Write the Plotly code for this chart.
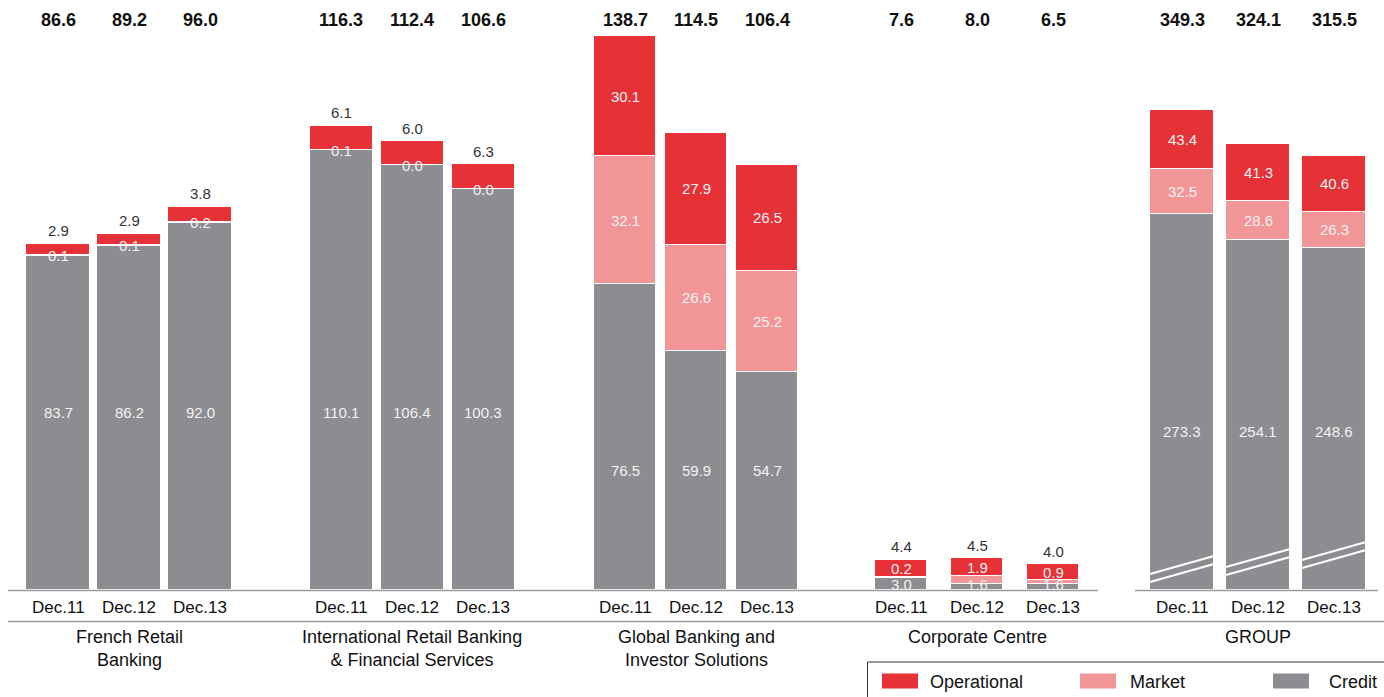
import plotly.graph_objects as go

# ---- data -------------------------------------------------------------
groups = [
    "French Retail<br>Banking",
    "International Retail Banking<br>& Financial Services",
    "Global Banking and<br>Investor Solutions",
    "Corporate Centre",
    "GROUP",
]
years = ["Dec.11", "Dec.12", "Dec.13"]

credit = [
    [83.7, 86.2, 92.0],
    [110.1, 106.4, 100.3],
    [76.5, 59.9, 54.7],
    [3.0, 1.6, 1.6],
    [273.3, 254.1, 248.6],
]
market = [
    [0.1, 0.1, 0.2],
    [0.1, 0.0, 0.0],
    [32.1, 26.6, 25.2],
    [0.2, 1.9, 0.9],
    [32.5, 28.6, 26.3],
]
operational = [
    [2.9, 2.9, 3.8],
    [6.1, 6.0, 6.3],
    [30.1, 27.9, 26.5],
    [4.4, 4.5, 4.0],
    [43.4, 41.3, 40.6],
]
totals = [
    [86.6, 89.2, 96.0],
    [116.3, 112.4, 106.6],
    [138.7, 114.5, 106.4],
    [7.6, 8.0, 6.5],
    [349.3, 324.1, 315.5],
]

# ---- style / layout ---------------------------------------------------
RED = "#E63137"
PINK = "#F29596"
GREY = "#8D8C91"
INK = "#111111"
LIGHT = "#F2F2F2"
FONT = "Liberation Sans, Arial, Helvetica, sans-serif"

W, H = 1384, 697
BASE = 590                      # pixel row of the baseline
PX_MAIN = 3.994                 # px per unit, business lines
PX_GROUP = 1.376                # px per unit, GROUP (compressed scale)

GROUP_CENTERS = [129, 412, 696, 977, 1258]
PITCH = [71, 71, 71, 76, 76]
BAR_W = [64, 63, 62, 52, 64]

# where labels sit (axis units)
CREDIT_LABEL_LEVEL = [44.5, 44.5, 30.0, 1.3, 115.0]
OP_ON_TOP = [True, True, False, True, False]       # op value shown above bar
MARKET_IN_OP = [False, False, False, True, False]  # market label inside red box


def py(p):
    """pixel row -> paper y"""
    return (BASE - p) / BASE


def xpos(g, k):
    return GROUP_CENTERS[g] + (k - 1) * PITCH[g]


fig = go.Figure()

series = [("Credit", credit, GREY), ("Market", market, PINK), ("Operational", operational, RED)]
for name, vals, col in series:
    for axis, gs in (("y", [0, 1, 2, 3]), ("y2", [4])):
        xs, ys, ws = [], [], []
        for g in gs:
            for k in range(3):
                xs.append(xpos(g, k))
                ys.append(vals[g][k])
                ws.append(BAR_W[g])
        fig.add_trace(go.Bar(
            x=xs, y=ys, width=ws, name=name, yaxis=axis,
            marker=dict(color=col, line=dict(color="white", width=1.2)),
            hoverinfo="skip", showlegend=False,
        ))

ann = []


def label(x, y, text, yref, size=15, color=LIGHT, bold=False, yshift=0, yanchor="middle"):
    ann.append(dict(
        x=x, y=y, xref="x", yref=yref, text=f"<b>{text}</b>" if bold else text,
        showarrow=False, yshift=yshift, yanchor=yanchor,
        font=dict(family=FONT, size=size, color=color),
    ))


for g in range(5):
    yref = "y2" if g == 4 else "y"
    for k in range(3):
        x = xpos(g, k)
        c, m, o = credit[g][k], market[g][k], operational[g][k]
        top = c + m + o
        # totals row
        label(x, py(20), f"{totals[g][k]:.1f}", "paper", size=18, color=INK, bold=True)
        # credit
        label(x, CREDIT_LABEL_LEVEL[g], f"{c:.1f}", yref)
        # market
        if MARKET_IN_OP[g]:
            label(x, c + m + o / 2, f"{m:.1f}", yref)
        else:
            label(x, c + m / 2, f"{m:.1f}", yref)
        # operational
        if OP_ON_TOP[g]:
            label(x, top, f"{o:.1f}", yref, color="#333333", yshift=13)
        else:
            label(x, c + m + o / 2, f"{o:.1f}", yref)
        # year under the bar
        label(x, py(607), years[k], "paper", size=17, color=INK)
    # business line name
    ann.append(dict(
        x=GROUP_CENTERS[g], y=py(625), xref="x", yref="paper", text=groups[g],
        showarrow=False, yanchor="top", align="center",
        font=dict(family=FONT, size=18, color=INK),
    ))

shapes = []
# baselines (broken before GROUP) and the separator line
shapes.append(dict(type="line", xref="x", yref="paper", x0=8, x1=1098, y0=py(590.5), y1=py(590.5),
                   line=dict(color="#9a9a9a", width=1.5)))
shapes.append(dict(type="line", xref="x", yref="paper", x0=1135, x1=1378, y0=py(590.5), y1=py(590.5),
                   line=dict(color="#9a9a9a", width=1.5)))
shapes.append(dict(type="line", xref="x", yref="paper", x0=8, x1=W, y0=py(621.5), y1=py(621.5),
                   line=dict(color="#9a9a9a", width=1.5)))

# scale-break marks on the GROUP bars
for k in range(3):
    x = xpos(4, k)
    for off in (0, 8):
        shapes.append(dict(
            type="line", xref="x", yref="paper",
            x0=x - BAR_W[4] / 2, x1=x + BAR_W[4] / 2,
            y0=py(574 - 7 * k + off), y1=py(556 - 7 * k + off),
            line=dict(color="white", width=2.2),
        ))

# legend box
shapes.append(dict(type="rect", xref="x", yref="paper", x0=867.5, x1=W + 5, y0=py(662), y1=py(H + 5),
                   line=dict(color="#333333", width=1), fillcolor="rgba(0,0,0,0)"))
legend_items = [("Operational", RED, 882, 928), ("Market", PINK, 1080, 1128), ("Credit", GREY, 1273, 1327)]
for name, col, sx, tx in legend_items:
    shapes.append(dict(type="rect", xref="x", yref="paper", x0=sx, x1=sx + 36, y0=py(673.5), y1=py(688.5),
                       line=dict(width=0), fillcolor=col))
    ann.append(dict(
        x=tx, y=py(682), xref="x", yref="paper", text=name, showarrow=False,
        xanchor="left", yanchor="middle", font=dict(family=FONT, size=18, color=INK),
    ))

fig.update_layout(
    width=W, height=H,
    margin=dict(l=0, r=0, t=0, b=H - BASE),
    paper_bgcolor="white", plot_bgcolor="white",
    barmode="stack", bargap=0,
    showlegend=False,
    font=dict(family=FONT),
    xaxis=dict(range=[0, W], visible=False, fixedrange=True),
    yaxis=dict(range=[0, BASE / PX_MAIN], visible=False),
    yaxis2=dict(range=[0, BASE / PX_GROUP], visible=False, overlaying="y"),
    annotations=ann,
    shapes=shapes,
)

# page has a default body margin; drop it so the figure fills the window
fig.write_html(
    "out.html",
    config={"displayModeBar": False},
    post_script="document.body.style.margin='0';document.body.style.overflow='hidden';",
)
